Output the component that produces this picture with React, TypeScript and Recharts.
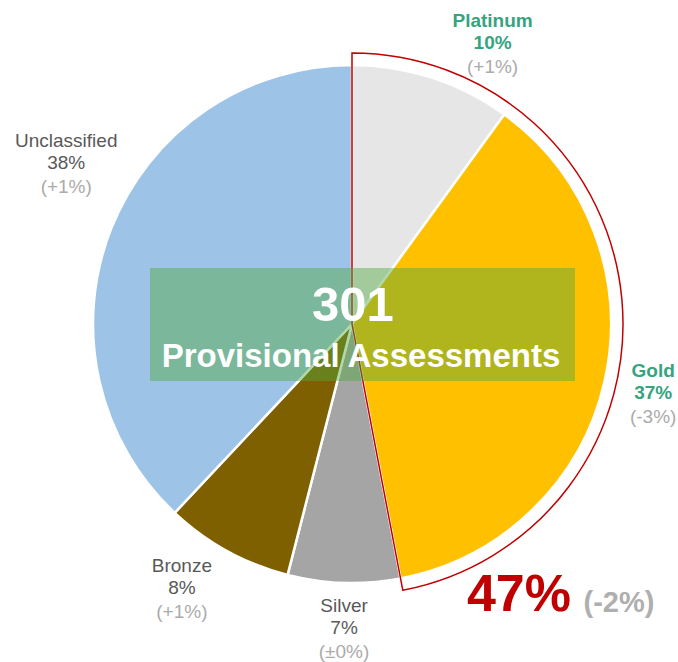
import React from 'react';
import { PieChart, Pie, Cell } from 'recharts';

// provisional assessment mix, clockwise from 12 o'clock
const categories = ['Platinum', 'Gold', 'Silver', 'Bronze', 'Unclassified'];
const shares = [10, 37, 7, 8, 38];
const changes = ['(+1%)', '(-3%)', '(±0%)', '(+1%)', '(+1%)'];
const sliceColors = ['#E7E6E6', '#FFC000', '#A5A5A5', '#7F6000', '#9DC3E6'];
const highlighted = ['Platinum', 'Gold'];
const highlightChange = '(-2%)';
const totalAssessments = 301;
const centerCaption = 'Provisional Assessments';

const W = 678;
const H = 662;
const CX = 352;
const CY = 324;
const R = 259;
const OUTLINE_R = 271;
const RADIAN = Math.PI / 180;
const FONT = '"Liberation Sans", Arial, sans-serif';

// label placement tweaks (angle shift in degrees, distance from centre)
const labelPlacement: Record<string, { dA: number; r: number }> = {
  Platinum: { dA: -8.6, r: 314 },
  Gold: { dA: -0.3, r: 309 },
  Silver: { dA: 0.3, r: 304 },
  Bronze: { dA: -4, r: 314 },
  Unclassified: { dA: -7.8, r: 328 },
};

const data = categories.map((name, i) => ({
  name,
  value: shares[i],
  change: changes[i],
}));

const highlightShare = data
  .filter(d => highlighted.includes(d.name))
  .reduce((s, d) => s + d.value, 0);

const outlineData = [
  { name: 'highlight', value: highlightShare },
  { name: 'rest', value: 100 - highlightShare },
];

const renderLabel = (props: any) => {
  const { cx, cy, midAngle, index } = props;
  const d = data[index];
  const p = labelPlacement[d.name];
  const a = (midAngle + p.dA) * RADIAN;
  const x = cx + p.r * Math.cos(-a);
  const y = cy + p.r * Math.sin(-a);
  const isHi = highlighted.includes(d.name);
  const main = isHi ? '#35A47F' : '#595959';
  return (
    <text
      x={x}
      y={y}
      textAnchor="middle"
      fontFamily={FONT}
      fontSize={19}
      fontWeight={isHi ? 700 : 400}
    >
      <tspan x={x} dy={-16} fill={main}>{d.name}</tspan>
      <tspan x={x} dy={22} fill={main}>{d.value}%</tspan>
      <tspan x={x} dy={24} fill="#ABABAB" fontWeight={400}>{d.change}</tspan>
    </text>
  );
};

export default function App() {
  return (
    <div style={{ position: 'absolute', top: 0, left: 0, width: W, height: H, background: '#fff' }}>
      <PieChart width={W} height={H} margin={{ top: 0, right: 0, bottom: 0, left: 0 }}>
        <Pie
          data={data}
          dataKey="value"
          cx={CX}
          cy={CY}
          outerRadius={R}
          startAngle={90}
          endAngle={-270}
          stroke="#ffffff"
          strokeWidth={2.5}
          label={renderLabel}
          labelLine={false}
          isAnimationActive={false}
        >
          {data.map((d, i) => (
            <Cell key={d.name} fill={sliceColors[i]} />
          ))}
        </Pie>
        <Pie
          data={outlineData}
          dataKey="value"
          cx={CX}
          cy={CY}
          outerRadius={OUTLINE_R}
          startAngle={90}
          endAngle={-270}
          isAnimationActive={false}
        >
          <Cell fill="none" stroke="#C00000" strokeWidth={1.5} />
          <Cell fill="none" stroke="none" />
        </Pie>
      </PieChart>
      <svg
        width={W}
        height={H}
        style={{ position: 'absolute', top: 0, left: 0, pointerEvents: 'none' }}
      >
        <rect x={150} y={268} width={425} height={113} fill="#50A840" fillOpacity={0.45} />
        <text x={353} y={321} textAnchor="middle" fill="#fff" fontFamily={FONT} fontWeight={700} fontSize={49}>
          {totalAssessments}
        </text>
        <text x={361} y={367} textAnchor="middle" fill="#fff" fontFamily={FONT} fontWeight={700} fontSize={33}>
          {centerCaption}
        </text>
        <text x={519} y={611} textAnchor="middle" fill="#C00000" fontFamily={FONT} fontWeight={700} fontSize={52}>
          {highlightShare}%
        </text>
        <text x={619} y={612} textAnchor="middle" fill="#AFAFAF" fontFamily={FONT} fontWeight={700} fontSize={29}>
          {highlightChange}
        </text>
      </svg>
    </div>
  );
}
